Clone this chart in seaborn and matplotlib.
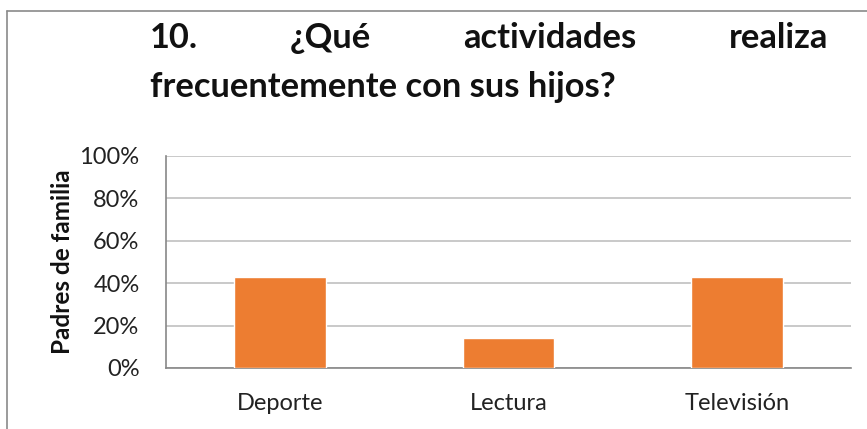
import matplotlib
matplotlib.use("Agg")
import matplotlib.pyplot as plt
from matplotlib.lines import Line2D
from matplotlib.ticker import PercentFormatter
import seaborn as sns
import pandas as pd

categories = ["Deporte", "Lectura", "Televisión"]
values = [0.4286, 0.1429, 0.4286]
yticks = [0, 0.2, 0.4, 0.6, 0.8, 1.0]
title_line1 = ["10.", "¿Qué", "actividades", "realiza"]
title_line2 = "frecuentemente con sus hijos?"
ylabel = "Padres de familia"

sns.set_theme(style="white")
plt.rcParams["font.family"] = ["Lato", "DejaVu Sans"]

W, H = 867, 429
fig = plt.figure(figsize=(W / 100, H / 100), dpi=100)
ax = fig.add_axes([166 / W, 61 / H, 685 / W, 212 / H])

df = pd.DataFrame({"cat": categories, "val": values})
sns.barplot(data=df, x="cat", y="val", color="#ED7D31", width=0.4,
            saturation=1, ax=ax, zorder=3)

ax.set_ylim(0, 1)
ax.set_yticks(yticks)
ax.yaxis.set_major_formatter(PercentFormatter(1.0, decimals=0))
ax.grid(axis="y", color="#c0c0c0", linewidth=1.2, zorder=0)
ax.set_axisbelow(True)
for s in ["top", "right"]:
    ax.spines[s].set_visible(False)
for s in ["left", "bottom"]:
    ax.spines[s].set_color("#878787")
    ax.spines[s].set_linewidth(1.2)
ax.tick_params(axis="y", length=0, pad=19, labelsize=17, labelcolor="#222222")
ax.tick_params(axis="x", length=0, pad=18, labelsize=17, labelcolor="#222222")
ax.set_xlabel("")
ax.set_ylabel(ylabel, fontsize=17.5, fontweight="bold", color="#111111")
ax.yaxis.set_label_coords(-0.135, 0.5)

# chart frame (only top and left edges fall inside the picture)
fig.add_artist(Line2D([7 / W, 1], [1 - 11 / H, 1 - 11 / H], color="#8a8a8a", lw=1.2))
fig.add_artist(Line2D([7 / W, 7 / W], [0, 1 - 11 / H], color="#8a8a8a", lw=1.2))

# justified title
tkw = dict(fontsize=24.8, fontweight="bold", color="#111111", va="baseline")
x0, x1 = 150 / W, 828 / W
y1, y2 = 1 - 48 / H, 1 - 97 / H
fig.canvas.draw()
r = fig.canvas.get_renderer()
words = [fig.text(0, y1, w, **tkw) for w in title_line1]
widths = [t.get_window_extent(r).width / W for t in words]
gap = (x1 - x0 - sum(widths)) / (len(words) - 1)
x = x0
for t, w in zip(words, widths):
    t.set_x(x)
    x += w + gap
fig.text(x0, y2, title_line2, **tkw)

fig.savefig("out.png", dpi=100)
